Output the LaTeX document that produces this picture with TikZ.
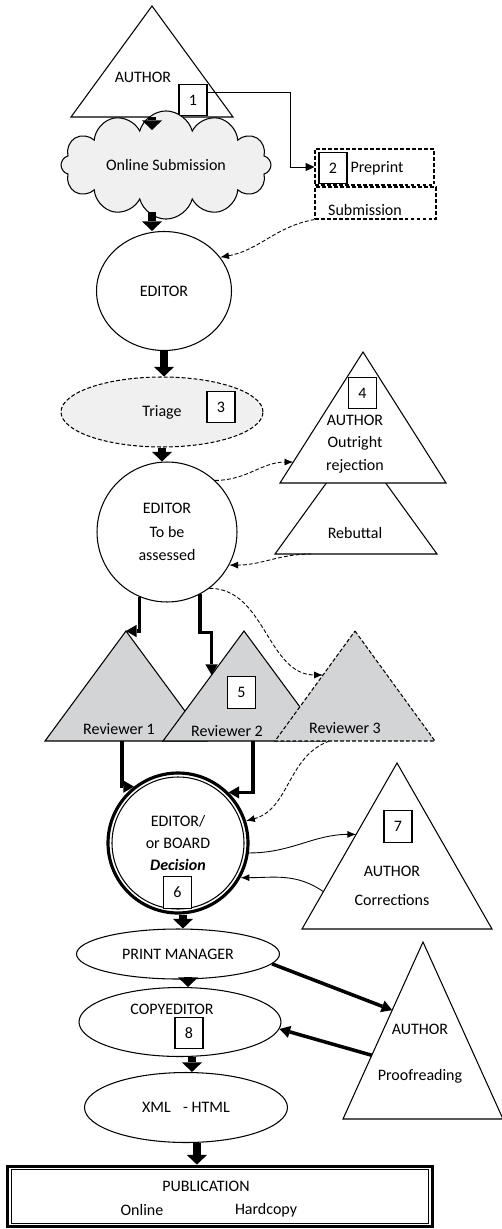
\documentclass[tikz,border=0pt]{standalone}
\usepackage{fontspec}
\setmainfont{Carlito}
\usepackage{tikz}
\usetikzlibrary{shapes.geometric,shapes.symbols,arrows.meta,calc}

\definecolor{lightfill}{RGB}{240,240,240}
\definecolor{revfill}{RGB}{211,212,214}

% triangle: [style]{name}{apex x}{apex y}{half base}{height}
\newcommand{\triang}[6][]{%
	\coordinate (#2-apex) at (#3,#4);
	\coordinate (#2-left) at ($(#3,#4)+(-#5,#6)$);
	\coordinate (#2-right) at ($(#3,#4)+(#5,#6)$);
	\draw[#1] (#2-apex) -- (#2-right) -- (#2-left) -- cycle;}

\begin{document}
\begin{tikzpicture}[x=0.02cm, y=-0.02cm, line width=0.6pt,
		font=\fontsize{9.1}{10.8}\selectfont,
		shp/.style={draw, fill=white, line width=0.6pt},
		numbox/.style={draw, fill=white, minimum width=0.56cm, minimum height=0.63cm, inner sep=0pt},
		oval/.style={ellipse, draw, fill=white, inner sep=0pt},
		dashln/.style={dash pattern=on 2.2pt off 1.2pt},
		blk/.style={line width=5pt, -{Triangle[width=11.5pt,length=5.5pt,line width=0pt]}},
		thk/.style={line width=2pt, -{Triangle[width=7pt,length=6pt,line width=0pt]}},
		dsh/.style={dashln, line width=0.5pt, -{Latex[length=5pt,width=4pt]}},
		thn/.style={line width=0.5pt, -{Latex[length=5pt,width=4pt]}}]
	\useasboundingbox (0,0) rectangle (502,1229);
	% author and submission
	\triang[shp]{a1}{152}{6}{81}{111}
	\node (a1t) at (143,77) {AUTHOR};
	\node[numbox] (b1) at (193,100) {1};
	\node[cloud, cloud puffs=12, aspect=2.2, draw, fill=lightfill, minimum width=4.2cm,
		minimum height=1.82cm, inner sep=0pt] (cld) at (166,165) {Online Submission};
	\node[draw, dashln, minimum width=2.38cm, minimum height=0.72cm] (pre) at (374.5,167) {};
	\node[numbox] (b2) at (333,168) {2};
	\node (pret) at (377,168) {Preprint};
	\node[draw, dashln, minimum width=2.42cm, minimum height=0.64cm] (sub) at (375.5,203) {};
	\node (subt) at (365,210) {Submission};
	% editor and triage
	\node[oval, minimum width=2.7cm, minimum height=2.38cm] (ed1) at (164,291) {EDITOR};
	\node[oval, dashln, fill=lightfill, minimum width=4.04cm, minimum height=1.4cm] (tri) at (162,412) {Triage};
	\node[numbox] (b3) at (221,407) {3};
	% rejection and rebuttal
	\triang[shp]{reb}{356}{442}{81}{112}
	\node (rebt) at (355,533) {Rebuttal};
	\triang[shp]{a4}{363}{352}{83}{131}
	\node[numbox] (b4) at (362.5,393) {4};
	\node[align=center] (a4t) at (355,444) {AUTHOR\\[2pt]Outright\\[2pt]rejection};
	\node[circle, draw, fill=white, minimum size=2.8cm, inner sep=0pt, align=center] (ed2) at (167,532)
		{EDITOR\\[2.5pt]To be\\[2.5pt]assessed};
	% reviewers
	\triang[shp, fill=revfill]{r1}{126}{631}{81}{110}
	\triang[shp, fill=revfill]{r2}{244}{631}{81}{110}
	\triang[shp, fill=revfill, dashln]{r3}{355}{631}{80}{110}
	\node (r1t) at (119,729) {Reviewer 1};
	\node (r2t) at (227,731.5) {Reviewer 2};
	\node (r3t) at (345,728) {Reviewer 3};
	\node[numbox] (b5) at (241.5,692.5) {5};
	% decision
	\node[circle, draw, fill=white, line width=1.8pt, minimum size=2.8cm, inner sep=0pt, align=center] (ed3) at (178,843)
		{EDITOR/\\[1.5pt]or BOARD\\[1.5pt]\textbf{\textit{Decision}}};
	\draw (ed3.center) circle[radius=66];
	\node[numbox] (b6) at (177.5,892.5) {6};
	\triang[shp]{a7}{397}{763}{95}{166}
	\node[numbox] (b7) at (398,826.5) {7};
	\node[align=center] (a7t) at (392,886) {AUTHOR\\[5.5pt]Corrections};
	% production
	\node[oval, minimum width=4.06cm, minimum height=1cm] (pm) at (178,954) {PRINT MANAGER};
	\node[oval, minimum width=4.04cm, minimum height=1.38cm] (ce) at (180,1022) {};
	\node (cet) at (172,1009) {COPYEDITOR};
	\node[numbox] (b8) at (189,1033) {8};
	\node[oval, minimum width=4.06cm, minimum height=1.4cm] (xml) at (186,1107.5) {XML\hspace{5pt} - HTML};
	\triang[shp]{a8}{423}{942}{80}{177}
	\node[align=center] (a8t) at (420,1053.5) {AUTHOR\\[15.5pt]Proofreading};
	\node[draw, line width=2.2pt, minimum width=8.5cm, minimum height=1.2cm, inner sep=0pt] (pub) at (220,1196.5) {};
	\draw ($(pub.north west)+(6,5)$) rectangle ($(pub.south east)+(-6,-5)$);
	\node (pubt) at (206,1186) {PUBLICATION};
	\node (onl) at (142,1210) {Online};
	\node (hard) at (266,1210) {Hardcopy};
	% connector ends
	\coordinate (a4in) at ($(a4-left)!0.16!(a4-apex)$);
	\coordinate (rebout) at ($(reb-left)!0.225!(reb-right)$);
	\coordinate (r2in) at ($(r2-left)!0.6!(r2-apex)$);
	\coordinate (r3in) at ($(r3-left)!0.6!(r3-apex)$);
	\coordinate (r1out) at ($(r1-left)!0.475!(r1-right)$);
	\coordinate (r2out) at ($(r2-left)!0.556!(r2-right)$);
	\coordinate (r3out) at ($(r3-left)!0.34!(r3-right)$);
	\coordinate (a7in) at ($(a7-left)!0.57!(a7-apex)$);
	\coordinate (a7out) at ($(a7-left)!0.225!(a7-apex)$);
	\coordinate (a8in) at ($(a8-left)!0.615!(a8-apex)$);
	\coordinate (a8out) at ($(a8-left)!0.36!(a8-apex)$);
	\coordinate (ocl) at ([yshift=4.5pt]cld.south);
	\coordinate (o6) at ([xshift=2.8pt]ed3.south);
	\coordinate (opm) at ([xshift=5.7pt]pm.south);
	\coordinate (oce) at ([xshift=6.8pt]ce.south);
	\coordinate (oxml) at ([xshift=6.2pt]xml.south);
	% main flow
	\draw[blk] (a1-apex |- a1-left) -- ++(0,13);
	\draw[blk] (ocl -| a1-apex) -- (ed1.north -| a1-apex);
	\draw[blk] (ed1.south) -- (ed1.south |- tri.north);
	\draw[blk] (tri.south) -- (tri.south |- ed2.north);
	\draw[blk] (o6) -- (o6 |- pm.north);
	\draw[blk] (opm) -- (opm |- ce.north);
	\draw[blk] (oce) -- (oce |- xml.north);
	\draw[blk] (oxml) -- (oxml |- pub.north);
	% side loops
	\draw[thn, -{Triangle[length=5pt,width=4.5pt]}] ([yshift=4.5pt]b1.east) -- ++(83,0) |- (pre.west);
	\draw[dsh] (sub.south west) to[out=190, in=10] (ed1.31);
	\draw[dsh] (ed2.47) to[out=0, in=180] (a4in);
	\draw[dsh] (rebout) to[out=180, in=0] (ed2.-28);
	\draw[dsh] (ed2.-53) to[out=0, in=180] (r3in);
	\draw[dsh] (r3out) to[out=200, in=15] (ed3.18);
	\draw[thk] (ed2.247) |- (r1-apex);
	\draw[thk] (ed2.298) -- ++(0,38) -| (r2in);
	\draw[thk] (r1out) |- (ed3.128);
	\draw[thk] (r2out) |- (ed3.45);
	\draw[thn] (ed3.-8) to[out=0, in=180] (a7in);
	\draw[thn] (a7out) to[out=145, in=0] (ed3.-29);
	\draw[thk] (pm.-6) -- (a8in);
	\draw[thk] (a8out) -- (ce.-4);
\end{tikzpicture}
\end{document}
